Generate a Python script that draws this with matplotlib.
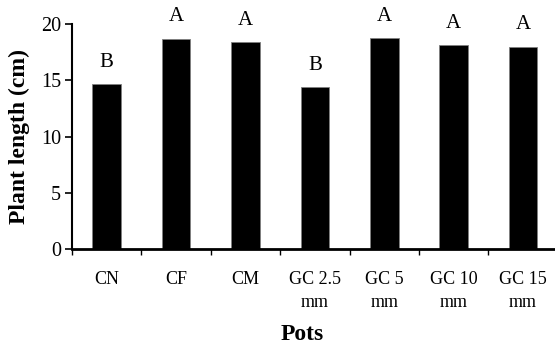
import matplotlib
matplotlib.use('Agg')
from matplotlib import pyplot as plt
import numpy as np

# data
pots = ['CN', 'CF', 'CM', 'GC 2.5\nmm', 'GC 5\nmm', 'GC 10\nmm', 'GC 15\nmm']
length = [14.65, 18.72, 18.37, 14.37, 18.76, 18.13, 18.0]
groups = ['B', 'A', 'A', 'B', 'A', 'A', 'A']

plt.rcParams['font.family'] = ['Liberation Serif', 'DejaVu Serif']

fig = plt.figure(figsize=(5.55, 3.45), dpi=100)
ax = fig.add_axes([0.1297, 0.278, 0.8703, 0.652])

x = np.arange(len(pots))
ax.bar(x, length, width=0.41, color='black', edgecolor='#808080', linewidth=0.6)

# letters above the bars
for xi, v, g in zip(x, length, groups):
    ax.text(xi, v + 1.95, g, ha='center', va='center', fontsize=15, clip_on=False)

ax.set_ylim(0, 20)
ax.set_xlim(-0.5, 6.46)
ax.set_yticks([0, 5, 10, 15, 20])

# labels at centres, ticks between categories
ax.set_xticks(x)
ax.set_xticklabels(pots, fontsize=13, va='top', linespacing=1.4)
ax.set_xticks(np.arange(-0.5, 6.0, 1.0), minor=True)
ax.tick_params(axis='x', which='major', length=0, pad=16)
ax.tick_params(axis='x', which='minor', length=4, width=1.0, direction='out')
ax.tick_params(axis='y', length=5, width=1.2, direction='out', labelsize=14.5, pad=3)

for s in ['top', 'right']:
    ax.spines[s].set_visible(False)
ax.spines['left'].set_linewidth(1.5)
ax.spines['bottom'].set_linewidth(2)

ax.set_ylabel('Plant length (cm)', fontsize=17, fontweight='bold', labelpad=8)
ax.set_xlabel('Pots', fontsize=17, fontweight='bold', labelpad=10)
ax.xaxis.label.set_x(0.476)

plt.savefig('out.png', dpi=100)
